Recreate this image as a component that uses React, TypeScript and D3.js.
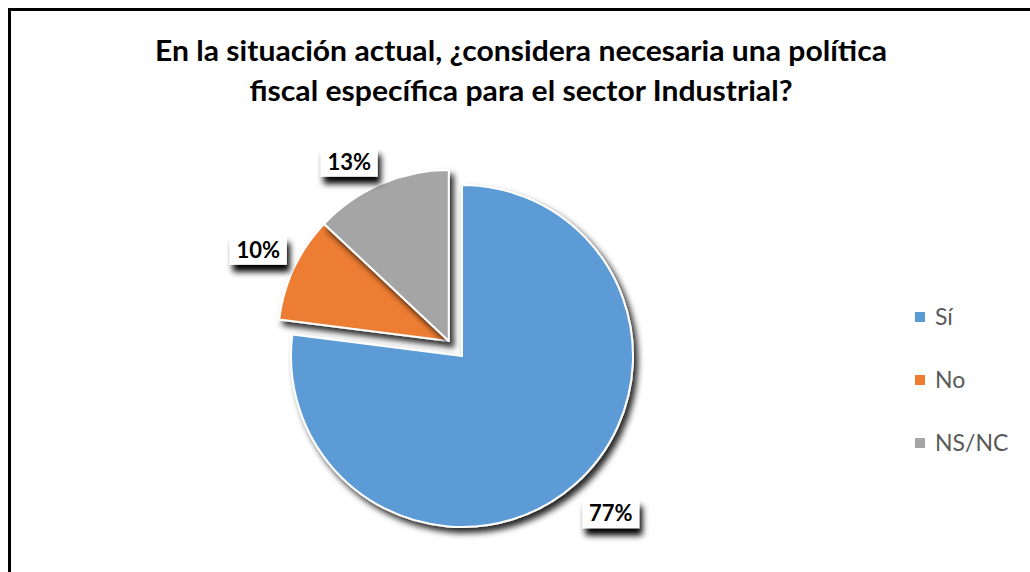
import React from 'react';
import * as d3 from 'd3';

const categories: string[] = ['Sí', 'No', 'NS/NC'];
const values: number[] = [77, 10, 13];
const colors: string[] = ['#5B9BD5', '#ED7D31', '#A5A5A5'];
const exploded: boolean[] = [false, true, true];
const titleLines: string[] = [
  'En la situación actual, ¿considera necesaria una política',
  'fiscal específica para el sector Industrial?',
];

export default function App() {
  const W = 1030, H = 572;
  const cx = 462, cy = 356, r = 171;
  const explodeDist = 20;
  const total = d3.sum(values);

  const pie = d3.pie<number>().sort(null).value((d) => d).startAngle(0).endAngle(2 * Math.PI);
  const arcs = pie(values);
  const arc = d3.arc<d3.PieArcDatum<number>>().innerRadius(0).outerRadius(r);

  const expl = arcs.filter((_, i) => exploded[i]);
  const gStart = d3.min(expl, (a) => a.startAngle) as number;
  const gEnd = d3.max(expl, (a) => a.endAngle) as number;
  const gMid = (gStart + gEnd) / 2;
  const ex = Math.sin(gMid) * explodeDist;
  const ey = -Math.cos(gMid) * explodeDist;

  const fmt = d3.format('.0%');
  const boxW = 57, boxH = 29, gap = 8;

  const labels = arcs.map((a, i) => {
    const mid = (a.startAngle + a.endAngle) / 2;
    const ox = exploded[i] ? cx + ex : cx;
    const oy = exploded[i] ? cy + ey : cy;
    const dx = Math.sin(mid), dy = -Math.cos(mid);
    const ax = ox + dx * (r + gap);
    const ay = oy + dy * (r + gap);
    const bx = dx >= 0 ? ax + 2 : ax - boxW;
    const by = dy >= 0 ? ay + 9 : ay - boxH;
    return { x: bx, y: by, text: fmt(values[i] / total) };
  });

  const legendY = d3.scalePoint<string>().domain(categories).range([317, 443]);

  return (
    <svg width={W} height={H} style={{ position: 'absolute', left: 0, top: 0 }}>
      <defs>
        <filter id="sliceShadow" x="-20%" y="-20%" width="140%" height="140%">
          <feDropShadow dx="4" dy="5" stdDeviation="3" floodColor="#000" floodOpacity="0.85" />
        </filter>
        <filter id="boxShadow" x="-30%" y="-30%" width="160%" height="180%">
          <feDropShadow dx="3" dy="7" stdDeviation="3" floodColor="#000" floodOpacity="1" />
        </filter>
      </defs>
      <rect x={0} y={0} width={W} height={H} fill="#fff" />
      <path d={`M9.5,${H + 10} V9.5 H${W + 10}`} fill="none" stroke="#000" strokeWidth={3} />
      {titleLines.map((t, i) => (
        <text
          key={i}
          x={521}
          y={61 + i * 40}
          textAnchor="middle"
          fontFamily="Lato, 'Open Sans', sans-serif"
          fontWeight="bold"
          fontSize={28}
          fill="#000"
          textLength={i === 0 ? 732 : 543}
          lengthAdjust="spacingAndGlyphs"
        >
          {t}
        </text>
      ))}
      {arcs.map((a, i) => (
        <path
          key={categories[i]}
          d={arc(a) as string}
          transform={`translate(${exploded[i] ? cx + ex : cx},${exploded[i] ? cy + ey : cy})`}
          fill={colors[i]}
          stroke="#fff"
          strokeWidth={2}
          strokeLinejoin="round"
          filter="url(#sliceShadow)"
        />
      ))}
      {labels.map((l, i) => (
        <g key={i}>
          <rect x={l.x} y={l.y} width={boxW} height={boxH} fill="#fff" filter="url(#boxShadow)" />
          <text
            x={l.x + boxW / 2}
            y={l.y + boxH / 2 + 7.5}
            textAnchor="middle"
            fontFamily="Lato, 'Open Sans', sans-serif"
            fontWeight="bold"
            fontSize={22}
            fill="#000"
          >
            {l.text}
          </text>
        </g>
      ))}
      {categories.map((c, i) => (
        <g key={c} transform={`translate(915,${legendY(c)})`}>
          <rect x={0} y={-5} width={10} height={10} fill={colors[i]} />
          <text x={20} y={8} fontFamily="Lato, 'Open Sans', sans-serif" fontSize={23} fill="#595959">
            {c}
          </text>
        </g>
      ))}
    </svg>
  );
}
